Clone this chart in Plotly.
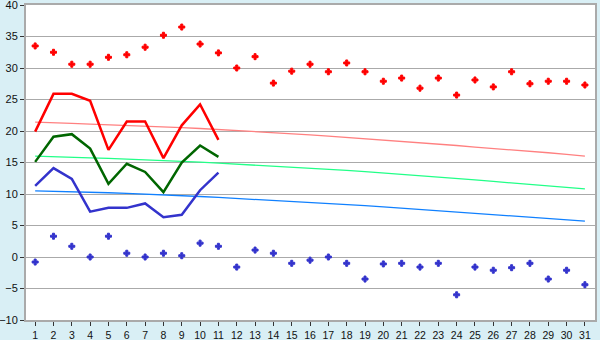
import plotly.graph_objects as go

days = list(range(1, 32))
obs_days = list(range(1, 12))

# Daily observed values (days 1-11)
daily_max = [19.9, 25.9, 25.9, 24.8, 17.0, 21.5, 21.5, 15.7, 20.9, 24.2, 18.6]
daily_mean = [15.1, 19.1, 19.5, 17.2, 11.6, 14.8, 13.5, 10.3, 15.0, 17.7, 15.9]
daily_min = [11.3, 14.1, 12.4, 7.2, 7.8, 7.8, 8.5, 6.3, 6.7, 10.6, 13.4]

# Record highs / lows per day
record_high = [33.5, 32.5, 30.6, 30.6, 31.7, 32.1, 33.3, 35.2, 36.5, 33.8,
               32.4, 30.0, 31.8, 27.6, 29.5, 30.6, 29.4, 30.8, 29.4, 27.9,
               28.4, 26.8, 28.4, 25.7, 28.1, 27.0, 29.4, 27.5, 27.9, 27.9, 27.3]
record_low = [-0.8, 3.3, 1.7, 0.0, 3.3, 0.6, 0.0, 0.6, 0.2, 2.2,
              1.7, -1.6, 1.1, 0.6, -1.0, -0.5, 0.0, -1.0, -3.5, -1.1,
              -1.0, -1.6, -1.0, -6.0, -1.6, -2.1, -1.7, -1.0, -3.5, -2.1, -4.4]

# Normals
normal_max = [21.4, 21.35, 21.2, 21.1, 21.0, 20.95, 20.85, 20.7, 20.55, 20.4,
              20.25, 20.1, 19.95, 19.8, 19.6, 19.4, 19.2, 19.0, 18.8, 18.55,
              18.3, 18.1, 17.9, 17.7, 17.45, 17.25, 17.0, 16.8, 16.55, 16.3, 16.0]
normal_mean = [16.0, 15.95, 15.85, 15.75, 15.65, 15.55, 15.45, 15.35, 15.2, 15.05,
               14.9, 14.75, 14.6, 14.45, 14.3, 14.1, 13.95, 13.75, 13.55, 13.35,
               13.1, 12.9, 12.7, 12.45, 12.25, 12.0, 11.75, 11.55, 11.3, 11.05, 10.8]
normal_min = [10.5, 10.45, 10.35, 10.3, 10.2, 10.1, 10.0, 9.9, 9.75, 9.6,
              9.45, 9.3, 9.15, 9.0, 8.85, 8.65, 8.5, 8.3, 8.15, 7.95,
              7.75, 7.55, 7.35, 7.15, 6.95, 6.75, 6.5, 6.3, 6.1, 5.9, 5.7]

fig = go.Figure()

fig.add_trace(go.Scatter(x=days, y=normal_max, mode="lines",
                         line=dict(color="#ff8080", width=1.3), hoverinfo="skip"))
fig.add_trace(go.Scatter(x=days, y=normal_mean, mode="lines",
                         line=dict(color="#22ff88", width=1.3), hoverinfo="skip"))
fig.add_trace(go.Scatter(x=days, y=normal_min, mode="lines",
                         line=dict(color="#1080ff", width=1.3), hoverinfo="skip"))

fig.add_trace(go.Scatter(x=obs_days, y=daily_max, mode="lines",
                         line=dict(color="#ff0000", width=2.5)))
fig.add_trace(go.Scatter(x=obs_days, y=daily_mean, mode="lines",
                         line=dict(color="#006600", width=2.5)))
fig.add_trace(go.Scatter(x=obs_days, y=daily_min, mode="lines",
                         line=dict(color="#3333cc", width=2.5)))

fig.add_trace(go.Scatter(x=days, y=record_high, mode="markers",
                         marker=dict(symbol="cross", size=5, color="#ff0000",
                                     line=dict(width=1, color="#ff0000"))))
fig.add_trace(go.Scatter(x=days, y=record_low, mode="markers",
                         marker=dict(symbol="cross", size=5, color="#3333cc",
                                     line=dict(width=1, color="#3333cc"))))

y_font = dict(family="Liberation Sans", size=11, color="#111111")
x_font = dict(family="Liberation Sans", size=10.5, color="#111111")

fig.update_layout(
    width=600, height=340,
    margin=dict(l=26, r=5, t=5, b=20),
    paper_bgcolor="#d9eff5",
    plot_bgcolor="#ffffff",
    showlegend=False,
    xaxis=dict(range=[0.5, 31.55], tickmode="array", tickvals=days,
               ticktext=[str(d) for d in days], showgrid=False,
               ticks="outside", ticklen=4, tickcolor="#333333",
               showline=True, linecolor="#aaaaaa", linewidth=2, mirror=True,
               tickfont=x_font, zeroline=False, fixedrange=True,
               automargin=False, ticklabeloverflow="allow", ticklabelstandoff=0),
    yaxis=dict(range=[-10, 40], tickmode="array",
               tickvals=[-10, -5, 0, 5, 10, 15, 20, 25, 30, 35, 40],
               showgrid=True, gridcolor="#aaaaaa", gridwidth=1,
               ticks="outside", ticklen=4, tickcolor="#333333",
               showline=True, linecolor="#aaaaaa", linewidth=2, mirror=True,
               tickfont=y_font, zeroline=False, fixedrange=True,
               automargin=False, ticklabeloverflow="allow"),
)

fig.write_html("out.html")
